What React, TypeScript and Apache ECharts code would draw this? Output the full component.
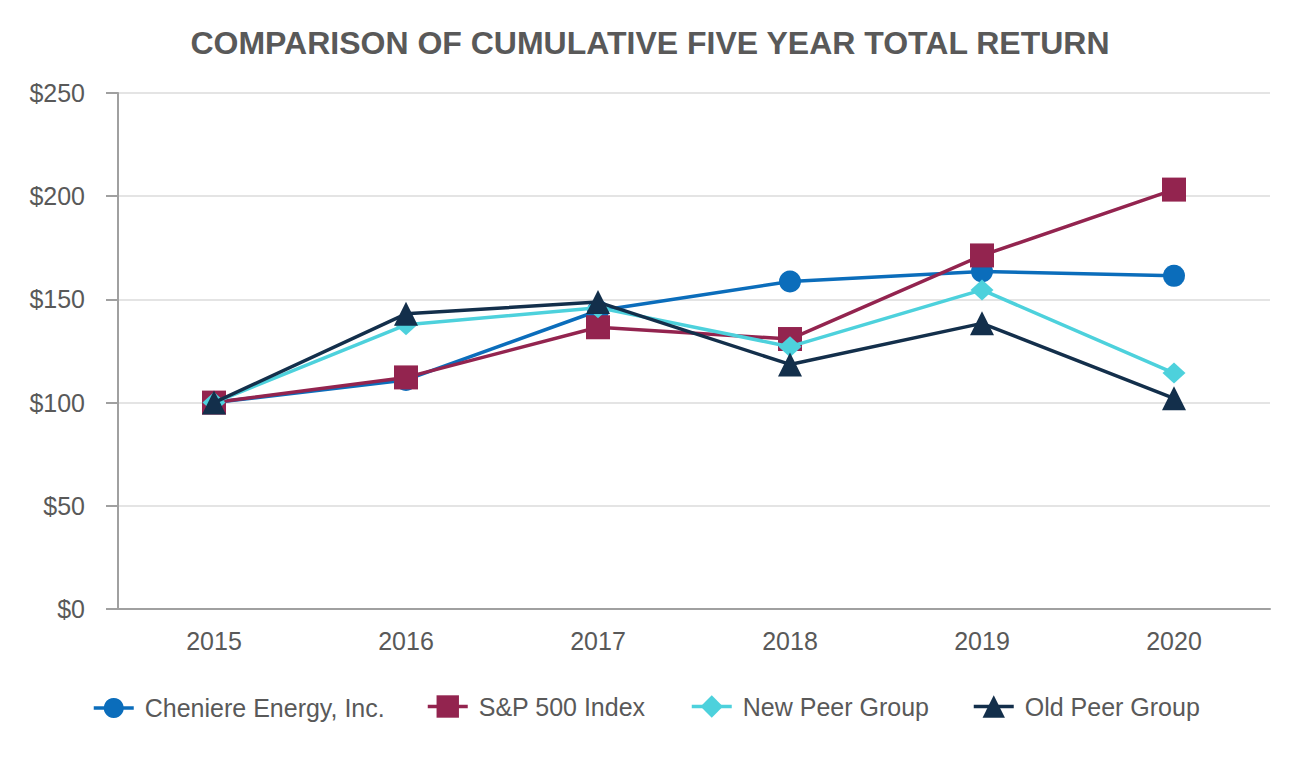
import React, { useEffect, useRef } from "react";
import * as echarts from "echarts";

const years = ["2015", "2016", "2017", "2018", "2019", "2020"];
const cheniere = [100, 111, 144.5, 158.7, 163.5, 161.4];
const sp500 = [100, 112.2, 136.5, 130.8, 171.3, 203.2];
const newPeer = [100, 137.7, 146, 127.1, 154.6, 114.3];
const oldPeer = [100, 143, 148.7, 118.5, 138.4, 102.1];
const seriesNames = ["Cheniere Energy, Inc.", "S&P 500 Index", "New Peer Group", "Old Peer Group"];
const yTicks = [0, 50, 100, 150, 200, 250];

const TEXT = "#595959";
const FONT = "'Liberation Sans', Arial, sans-serif";

export default function App() {
  const ref = useRef<HTMLDivElement>(null);
  useEffect(() => {
    if (!ref.current) return;
    const chart = echarts.init(ref.current, undefined, { renderer: "svg" });
    const colors = ["#0B6DBB", "#93244F", "#4DD1DC", "#132F4B"];
    const symbols = ["circle", "rect", "diamond", "triangle"];
    const sizes: any[] = [22, 24, [23, 21], 24];
    const datas = [cheniere, sp500, newPeer, oldPeer];
    const legendLeft = [92, 426, 690, 972];
    const legendH = [25, 28, 28, 28];
    const centerY = 708;
    chart.setOption({
      animation: false,
      backgroundColor: "#ffffff",
      title: {
        text: "COMPARISON OF CUMULATIVE FIVE YEAR TOTAL RETURN",
        left: "center",
        top: 22,
        padding: 5,
        textStyle: {
          color: TEXT,
          fontSize: 32,
          fontWeight: "bold",
          fontFamily: FONT,
        },
      },
      legend: seriesNames.map((n, i) => ({
        data: [n],
        left: legendLeft[i],
        top: centerY - legendH[i] / 2,
        padding: 0,
        itemWidth: 40,
        itemHeight: legendH[i],
        selectedMode: false,
        lineStyle: { width: 3.5 },
        textStyle: {
          color: TEXT,
          fontSize: 25,
          fontFamily: FONT,
          padding: [0, 0, 0, 6],
        },
      })),
      grid: { left: 118, right: 30, top: 93, bottom: 151, containLabel: false },
      xAxis: {
        type: "category",
        data: years,
        boundaryGap: true,
        axisLine: { lineStyle: { color: "#a0a0a0", width: 2 } },
        axisTick: { show: false },
        axisLabel: { color: TEXT, fontSize: 25, fontFamily: FONT, margin: 19 },
      },
      yAxis: {
        type: "value",
        min: yTicks[0],
        max: yTicks[yTicks.length - 1],
        interval: 50,
        axisLine: { show: true, lineStyle: { color: "#a0a0a0", width: 2 } },
        axisTick: { show: true, length: 12, lineStyle: { color: "#a0a0a0", width: 2 } },
        splitLine: { lineStyle: { color: "#e4e4e4", width: 2 } },
        axisLabel: {
          color: TEXT,
          fontSize: 25,
          fontFamily: FONT,
          margin: 33,
          formatter: (v: number) => "$" + v,
        },
      },
      series: seriesNames.map((n, i) => ({
        name: n,
        type: "line",
        data: datas[i],
        symbol: symbols[i],
        symbolSize: sizes[i],
        showAllSymbol: true,
        lineStyle: { color: colors[i], width: 3.5 },
        itemStyle: { color: colors[i], borderWidth: 0 },
        z: 2 + i,
      })),
    });
    return () => chart.dispose();
  }, []);
  return (
    <div
      ref={ref}
      style={{ position: "absolute", left: 0, top: 0, width: 1300, height: 760 }}
    />
  );
}
